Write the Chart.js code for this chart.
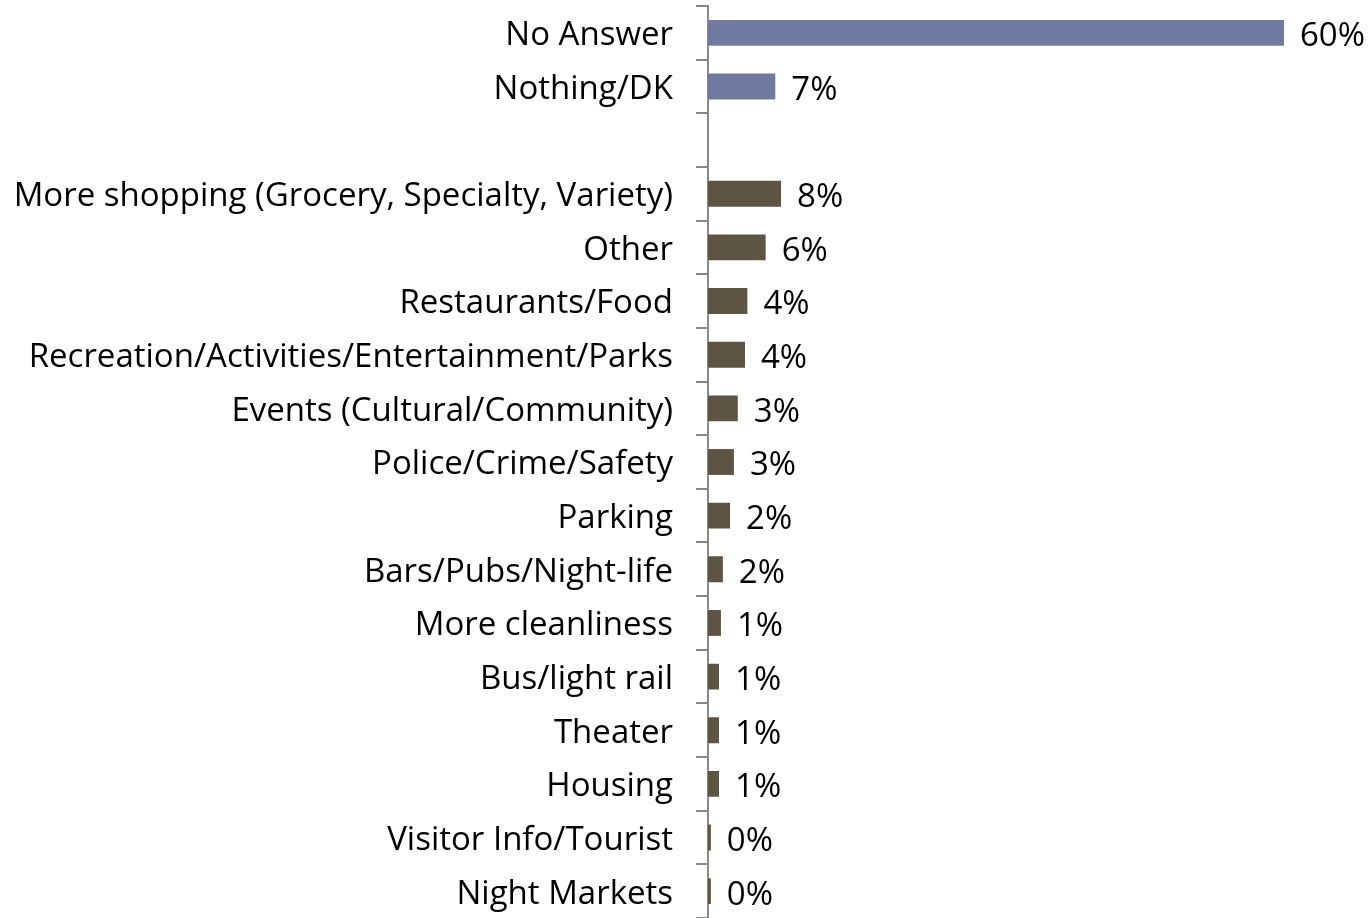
<!DOCTYPE html>
<html>
<head>
<meta charset="utf-8">
<script src="https://cdn.jsdelivr.net/npm/chart.js@4"></script>
<style>
  html, body { margin: 0; padding: 0; background: #fff; }
  #wrap { width: 1370px; height: 918px; }
</style>
</head>
<body>
<div id="wrap"><canvas id="chart" width="1370" height="918"></canvas></div>
<script>
const categories = [
    'No Answer', 'Nothing/DK', '',
    'More shopping (Grocery, Specialty, Variety)', 'Other', 'Restaurants/Food',
    'Recreation/Activities/Entertainment/Parks', 'Events (Cultural/Community)',
    'Police/Crime/Safety', 'Parking', 'Bars/Pubs/Night-life', 'More cleanliness',
    'Bus/light rail', 'Theater', 'Housing', 'Visitor Info/Tourist', 'Night Markets'
];
const values = [60, 7.1, null, 7.7, 6.1, 4.2, 3.95, 3.2, 2.8, 2.4, 1.65, 1.45, 1.25, 1.25, 1.25, 0.4, 0.4];
const valueLabels = ['60%', '7%', '', '8%', '6%', '4%', '4%', '3%', '3%', '2%', '2%', '1%', '1%', '1%', '1%', '0%', '0%'];
const barColors = values.map(function (v, i) { return i < 2 ? '#717ba2' : '#5e5443'; });

const FONT = '"Open Sans", sans-serif';
const FONT_SIZE = 33;

const valueLabelPlugin = {
    id: 'valueLabels',
    afterDatasetsDraw: function (chart) {
        const ctx = chart.ctx;
        const meta = chart.getDatasetMeta(0);
        ctx.save();
        ctx.font = FONT_SIZE + 'px ' + FONT;
        ctx.fillStyle = '#000';
        ctx.textAlign = 'left';
        ctx.textBaseline = 'middle';
        meta.data.forEach(function (bar, i) {
            if (!valueLabels[i]) return;
            ctx.fillText(valueLabels[i], bar.x + 15, bar.y + 4);
        });
        ctx.restore();
    }
};

new Chart(document.getElementById('chart'), {
    type: 'bar',
    data: {
        labels: categories,
        datasets: [{
            data: values,
            backgroundColor: barColors,
            borderColor: 'rgba(255,255,255,0.35)',
            borderWidth: 1,
            categoryPercentage: 1,
            barPercentage: 0.52
        }]
    },
    options: {
        indexAxis: 'y',
        responsive: false,
        animation: false,
        layout: { padding: { top: 6, right: 85, bottom: 0, left: 0 } },
        plugins: {
            legend: { display: false },
            tooltip: { enabled: false }
        },
        scales: {
            x: { display: false, min: 0, max: 60 },
            y: {
                afterFit: function (scale) {
                    scale.width = 708;
                    scale.paddingTop = 0;
                    scale.paddingBottom = 0;
                },
                border: { display: true, color: '#888', width: 2 },
                grid: { drawOnChartArea: false, drawTicks: true, tickLength: 12, color: '#888', lineWidth: 2 },
                ticks: {
                    padding: 23,
                    labelOffset: 3,
                    color: '#000',
                    font: { family: FONT, size: FONT_SIZE }
                }
            }
        }
    },
    plugins: [valueLabelPlugin]
});
</script>
</body>
</html>
